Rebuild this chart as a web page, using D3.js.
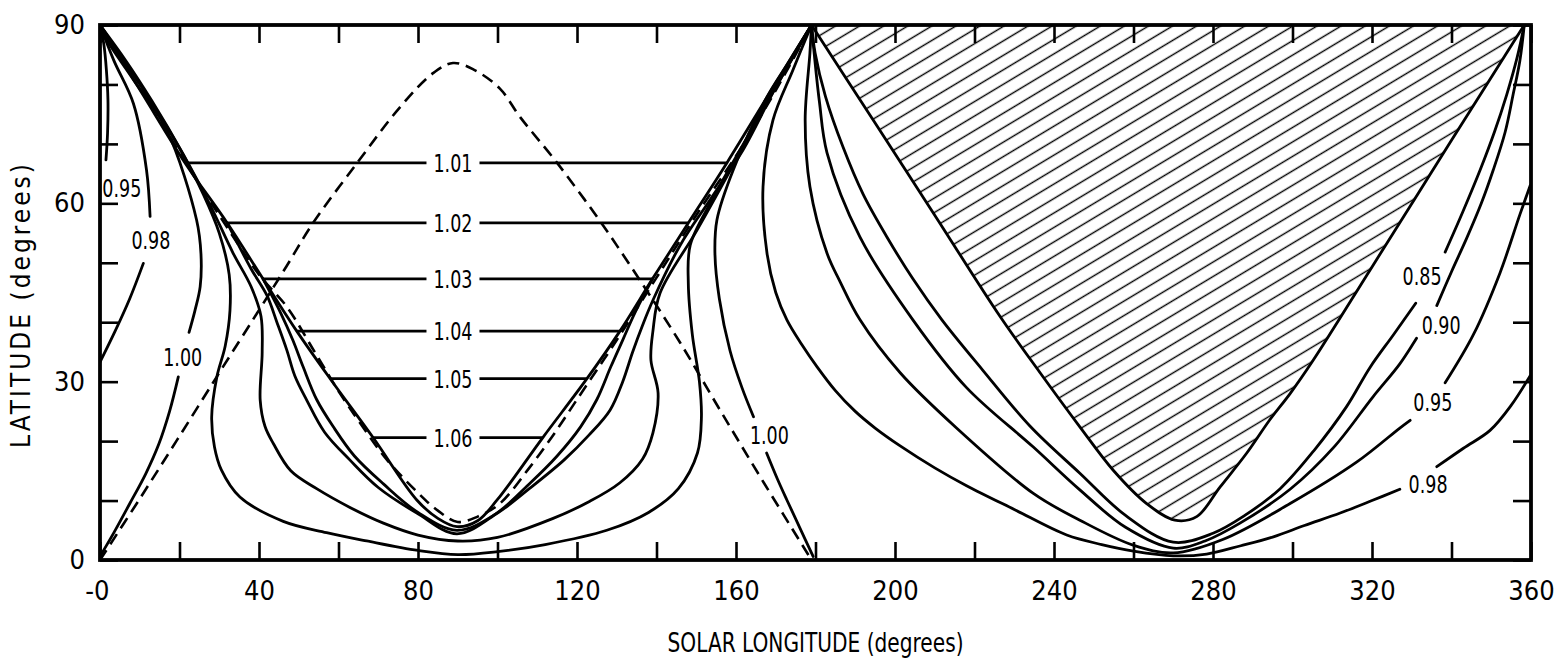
<!DOCTYPE html>
<html><head><meta charset="utf-8">
<script src="https://cdn.jsdelivr.net/npm/d3@7"></script>
<style>body{margin:0;background:#fff}svg{display:block}</style>
</head><body>
<svg id="chart" width="1559" height="661"></svg>
<script>
// ---------------- data (solar longitude, latitude) ----------------
const xTickValues = [0,20,40,60,80,100,120,140,160,180,200,220,240,260,280,300,320,340,360];
const xLabelValues = [0,40,80,120,160,200,240,280,320,360];
const xTickLabels = ["-0","40","80","120","160","200","240","280","320","360"];
const yTickValues = [0,10,20,30,40,50,60,70,80,90];
const yLabelValues = [0,30,60,90];
const yTickLabels = ["0","30","60","90"];

// dashed curves
const dashedV = [[0,90],[10.9,79.1],[20.1,68.4],[30,58],[40,48],[47,42.6],[54,35],[60.4,28],[66,22.5],[72,17],[80,11.3],[85,8.3],[90,6.4],[95,7.3],[100.6,9.5],[108,15.5],[114,21],[120,27],[130,37],[140,47.5],[150,58],[161,69],[170,79],[179,90]];
const dashedInvV = [[0,0],[10,10.3],[19.4,20.2],[30,31.5],[39.5,41.5],[47,49.5],[53.6,56.7],[64.7,66.8],[75.5,76.2],[83.8,81.9],[88.8,83.6],[94,82.5],[100.6,79.3],[105.7,74.5],[115,66.8],[125.8,57],[135.8,47.1],[146,36.5],[156,25.2],[167,13],[179,0]];

// horizontal contour segments 1.01 ... 1.06
const levelText = ["1.01","1.02","1.03","1.04","1.05","1.06"];
const levelLat = [66.8,56.7,47.3,38.5,30.5,20.6];
const levelStart = [21.4,32.0,41.0,49.5,57.9,68.7];
const levelEnd = [157.7,148.0,139.0,130.8,122.5,111.4];
const levelLabelLon = [88.8,88.8,88.8,88.8,88.8,88.8];

// left half curves
const c095L = [[0,90],[1,86.6],[1.6,82.5],[2,77.4],[1.9,71.8],[1.5,67.3]];
const c098La = [[0,90],[3.5,84],[8.4,76.8],[11.7,65.6],[12.6,57.8]];
const c098Lb = [[10.9,49.9],[7.5,44],[3.8,38.5],[0,33.3]];
const c100La = [[0,90],[1.7,87.5],[8.4,80.8],[16.8,72.3],[24.3,57.2],[25.4,51.5],[25.2,46],[23.9,42],[22.4,38.3]];
const c100Lb = [[19.7,30.8],[17.5,25],[14.8,19.5],[11.5,14.5],[7.5,9.5],[3.5,4.6],[0,0.6]];
const outerU = [[0,90],[6,84],[12.5,77.5],[20.4,68.8],[26,61.5],[30,55],[32.5,48],[32.7,42],[31.5,36],[29.4,30.8],[28.1,24.1],[28.8,19],[30.5,15.2],[35.2,10.6],[46.1,6.5],[57,4.6],[67.1,3.2],[80,1.6],[90,0.9],[100,1.4],[112,2.6],[127.5,5],[138,8],[145.5,12],[150.3,18],[151.3,24],[150.8,30],[149,38],[148,46.6],[148.5,53],[154,60.6],[161,69],[170,79.5],[179,90]];
const squiggleU = [[0,90],[6.5,84],[13,77.3],[21,68.2],[27.5,60],[33.5,51.6],[38,46],[40.5,41],[40.8,35],[40.3,26.9],[41.5,22.5],[43.6,19.6],[48,15],[54.5,12],[63,8.8],[71.3,6.2],[80,4.2],[90,3.2],[100,3.8],[114,7],[123,9.8],[130.8,13],[136.5,17],[139.1,21.4],[140.4,28.1],[138.6,33.6],[139.1,38.5],[140.9,44.9],[150.2,55.5],[159,66.1],[168.5,78],[179,90]];
const innerU1 = [[0,90],[10.5,78.6],[21.4,66.8],[32,56.7],[41,47.3],[49.5,38.5],[57.9,30.5],[68.7,20.6],[79.7,10.1],[85,7],[89.8,5.6],[95,6.6],[99.9,10.1],[111.4,20.6],[122.5,30.5],[130.8,38.5],[139,47.3],[148,56.7],[157.7,66.8],[168.5,78.6],[179,90]];
const innerU2 = [[41,47.3],[45.5,41.5],[48.5,37],[51.1,32.5],[54.5,27],[58.7,22.4],[64,17.5],[71.3,12.8],[80,8],[89.8,5],[99,7.5],[108.3,13],[115,17.5],[120.9,22.4],[125,27],[128.5,32.5],[131.5,37],[134.5,41.5],[139,47.3]];
const innerU3 = [[32,56.7],[38,49],[42,44.5],[44.5,40],[47,35.3],[49,31],[52,26.9],[56.5,21.5],[62.9,16.8],[70,12.2],[79.7,7.9],[89.8,4.4],[100,7.9],[108,12],[116.7,16.8],[123,21],[128.3,25.2],[131.5,30],[134,35],[136.5,39.5],[139.1,43.7],[146,53],[153.5,60.6],[161.8,69],[170,79.5],[179,90]];
const c100Ra = [[179,90],[173,83.5],[167.8,77.9],[159.3,65.6],[155.2,57.2],[154.7,51.6],[155.8,44],[158.5,35.2],[161.5,29],[164.4,24.1]];
const c100Rb = [[167.7,18],[170.5,13.5],[172.8,10.1],[176,5.5],[179.4,0.6]];

// right half curves
const hatchBoundary = [[179,90],[195,73.5],[210,58],[226.4,41],[236.5,31.5],[246.5,22.4],[254.9,15.1],[263.3,9.5],[270.4,6.7],[275.9,7.3],[281.8,12.3],[288.5,18],[294.3,23.6],[299.4,28],[305.2,33.6],[320,49.3],[340,70.6],[358.3,90]];
const c085a = [[179,90],[179.9,85.3],[182.5,78],[186.9,69.5],[192,61.5],[198,54.3],[204.5,47.3],[211.8,40.4],[222,32],[234,22.5],[246.5,14.6],[258,7.5],[270,3],[280,4.5],[288,7.5],[296.9,12],[305.5,18.5],[313.6,25.8],[319.5,32.4],[325.4,37.9],[331,43.2]];
const c085b = [[338.4,51.8],[342.8,58.5],[347.2,65.6],[350.8,72],[353.9,78.3],[356.5,84.5],[358.3,90]];
const c090a = [[179,90],[179.7,85],[181,77],[182.9,68.5],[191.2,54.3],[204.5,40.4],[218,29],[234.8,19],[246.5,11.8],[258,5.5],[270,2],[278,3.2],[286.8,6.2],[299.4,11.9],[310.3,18.9],[320.3,27.5],[327,33],[331.2,37.3]];
const c090b = [[336.3,42.8],[340,48.5],[343.8,54.1],[347.5,60],[350.5,65.6],[353.5,72],[355.5,78.3],[357.2,84],[358.3,90]];
const c095a = [[179,90],[178.6,85.3],[177.4,74],[178.6,62.8],[182.9,51.6],[186.2,46.8],[191.2,40.4],[201.3,31.5],[215,22.5],[234.8,11.2],[246.5,6.7],[259.9,2.5],[270,1.2],[282.6,3.5],[299.4,9.5],[316.2,16.5],[327,22.2],[329.6,23.5]];
const c095b = [[338.4,29.8],[345.5,37.9],[352.2,48.3],[357.2,58.1],[359.8,63]];
const c098a = [[179,90],[174.3,82.4],[169.3,74],[166.8,62.8],[167.8,51.6],[170,45],[172.8,40.4],[176.5,36.3],[180.4,32.5],[185,28.5],[190,25],[195,22.2],[201.3,19.2],[210,15.5],[218,12.5],[230,8.5],[243.2,4.2],[252,2.6],[260,1.5],[270,0.7],[278.4,1],[287,2.4],[295.2,3.9],[303,5.8],[312,7.9],[320,10],[327,11.9]];
const c098b = [[336.3,15.7],[343,18.8],[349.7,21.8],[355,26],[359.8,31]];

// contour value labels
const labelText = ["0.95","0.98","1.00","1.00","0.85","0.90","0.95","0.98"];
const labelLon = [5.5,12.8,20.8,168.4,332.6,337.4,335.3,334.1];
const labelLat = [62.6,53.8,34.2,21.0,47.7,39.6,26.6,12.8];

// ---------------- drawing ----------------
const svg = d3.select("#chart");
svg.append("rect").attr("width",1559).attr("height",661).attr("fill","#fff");
const x = d3.scaleLinear().domain([0,360]).range([100,1531]);
const y = d3.scaleLinear().domain([0,90]).range([560,25]);
const line = d3.line().x(d=>x(d[0])).y(d=>y(d[1])).curve(d3.curveCatmullRom.alpha(0.5));

const defs = svg.append("defs");
const pat = defs.append("pattern").attr("id","hatch").attr("patternUnits","userSpaceOnUse")
  .attr("width",200).attr("height",12.4).attr("patternTransform","rotate(-31)");
pat.append("line").attr("x1",0).attr("x2",200).attr("y1",6.2).attr("y2",6.2)
  .attr("stroke","#000").attr("stroke-width",1.6);
defs.append("clipPath").attr("id","plotclip").append("rect")
  .attr("x",x(0)).attr("y",y(90)).attr("width",x(360)-x(0)).attr("height",y(0)-y(90));

const plot = svg.append("g").attr("clip-path","url(#plotclip)");

// hatched region
plot.append("path").attr("d", line(hatchBoundary)+"Z").attr("fill","url(#hatch)").attr("stroke","none");

const solid = [c095L,c098La,c098Lb,c100La,c100Lb,outerU,squiggleU,innerU1,innerU2,innerU3,c100Ra,c100Rb,
  hatchBoundary,c085a,c085b,c090a,c090b,c095a,c095b,c098a,c098b];
plot.selectAll("path.contour").data(solid).join("path").attr("class","contour")
  .attr("d", line).attr("fill","none").attr("stroke","#000").attr("stroke-width",2.8)
  .attr("stroke-linejoin","round").attr("stroke-linecap","round");

plot.selectAll("path.dashed").data([dashedV,dashedInvV]).join("path").attr("class","dashed")
  .attr("d", line).attr("fill","none").attr("stroke","#000").attr("stroke-width",2.6)
  .attr("stroke-dasharray","12 7");

// horizontal level lines with labels
const labelFont = "'DejaVu Sans Condensed', 'DejaVu Sans', sans-serif";
function addLabel(t, px, py){
  return svg.append("text").attr("x",px).attr("y",py).attr("dy","0.36em")
    .attr("text-anchor","middle").attr("font-family",labelFont).attr("font-size",25)
    .attr("textLength",39).attr("lengthAdjust","spacingAndGlyphs").text(t);
}
levelText.forEach((t,i)=>{
  const cx = x(levelLabelLon[i]), cy = y(levelLat[i]);
  const txt = addLabel(t, cx, cy);
  const w = txt.node().getBBox().width;
  const segs = [[[levelStart[i],levelLat[i]],[x.invert(cx-w/2-7),levelLat[i]]],
                [[x.invert(cx+w/2+7),levelLat[i]],[levelEnd[i],levelLat[i]]]];
  segs.forEach(s=>plot.append("path").attr("d",d3.line().x(d=>x(d[0])).y(d=>y(d[1]))(s))
    .attr("stroke","#000").attr("stroke-width",2.8).attr("fill","none"));
});

labelText.forEach((t,i)=> addLabel(t, x(labelLon[i]), y(labelLat[i])));

// axes
const tickFont = "'DejaVu Sans Condensed', 'DejaVu Sans', sans-serif";
const xb = svg.append("g").attr("transform",`translate(0,${y(0)})`)
  .call(d3.axisBottom(x).tickValues(xTickValues).tickSizeInner(-18).tickSizeOuter(0)
  .tickFormat(d=>{const k=xLabelValues.indexOf(d);return k>=0?xTickLabels[k]:"";}));
const xt = svg.append("g").attr("transform",`translate(0,${y(90)})`)
  .call(d3.axisTop(x).tickValues(xTickValues).tickSizeInner(-18).tickSizeOuter(0).tickFormat(""));
const yl = svg.append("g").attr("transform",`translate(${x(0)},0)`)
  .call(d3.axisLeft(y).tickValues(yTickValues).tickSizeInner(-18).tickSizeOuter(0).tickPadding(15)
  .tickFormat(d=>{const k=yLabelValues.indexOf(d);return k>=0?yTickLabels[k]:"";}));
const yr = svg.append("g").attr("transform",`translate(${x(360)},0)`)
  .call(d3.axisRight(y).tickValues(yTickValues).tickSizeInner(-18).tickSizeOuter(0).tickFormat(""));
[xb,xt,yl,yr].forEach(g=>{
  g.select(".domain").remove();
  g.selectAll(".tick line").attr("stroke","#000").attr("stroke-width",2.6);
  g.selectAll("text").attr("font-family",tickFont).attr("font-size",27).attr("fill","#000");
});
xb.selectAll("text").attr("y",21);
xb.selectAll(".tick text").filter(d=>d===0).attr("text-anchor","end").attr("dx","9");

svg.append("rect").attr("x",x(0)).attr("y",y(90)).attr("width",x(360)-x(0)).attr("height",y(0)-y(90))
  .attr("fill","none").attr("stroke","#000").attr("stroke-width",3.8);

svg.append("text").attr("x",(x(0)+x(360))/2).attr("y",652).attr("text-anchor","middle")
  .attr("font-family",tickFont).attr("font-size",26).attr("textLength",296).attr("lengthAdjust","spacingAndGlyphs")
  .text("SOLAR LONGITUDE (degrees)");
svg.append("text").attr("transform",`translate(30,${(y(0)+y(90))/2 + 12}) rotate(-90)`).attr("text-anchor","middle")
  .attr("font-family",tickFont).attr("font-size",26).attr("letter-spacing",3).text("LATITUDE (degrees)");
</script>
</body></html>
